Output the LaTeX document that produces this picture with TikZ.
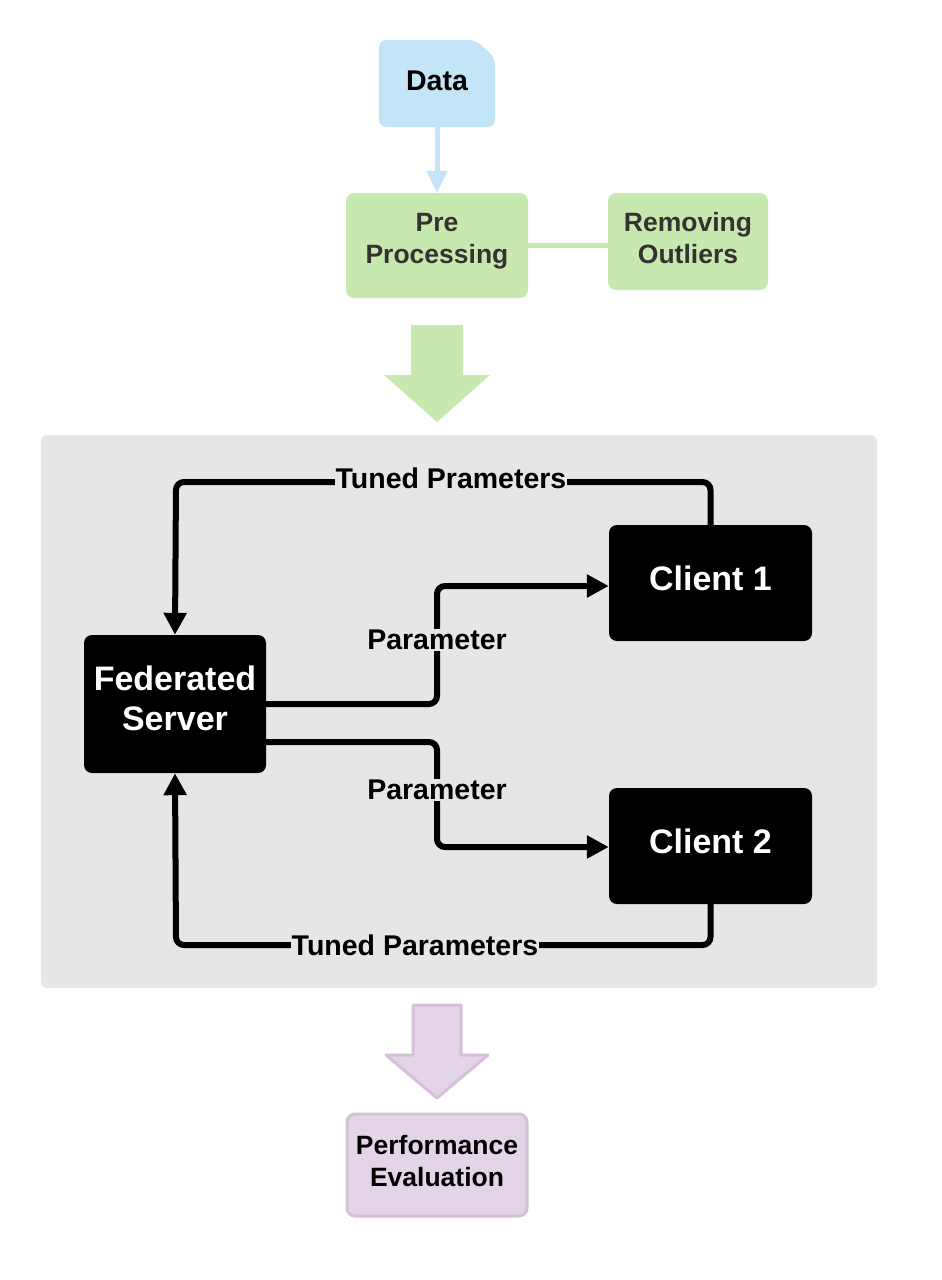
\documentclass[tikz,border=0pt]{standalone}
\usepackage{fontspec}
\setmainfont{Liberation Sans}
\usetikzlibrary{arrows.meta,calc}
\definecolor{datablue}{HTML}{C3E5F7}
\definecolor{prepgreen}{HTML}{C7E9AF}
\definecolor{panelgray}{HTML}{E6E6E6}
\definecolor{evalfill}{HTML}{E4D4E7}
\definecolor{evaldraw}{HTML}{D6C0D9}
\definecolor{darktext}{HTML}{333333}
\tikzset{
  greenbox/.style={fill=prepgreen, rounded corners=8pt, text=darktext, font=\bfseries\fontsize{26.5}{32}\selectfont, align=center, inner sep=0pt, text depth=14pt},
  blackbox/.style={fill=black, rounded corners=8pt, text=white, font=\bfseries\fontsize{34}{40}\selectfont, align=center, inner sep=0pt, minimum width=203pt, minimum height=116pt, text depth=9pt},
  conn/.style={line width=6pt, rounded corners=8pt, draw=black},
  tip/.style={-{Triangle[length=22pt,width=22pt]}},
  lbl/.style={fill=panelgray, inner sep=1pt, font=\bfseries\fontsize{28.5}{30}\selectfont}
}
\begin{document}
\begin{tikzpicture}[x=1pt,y=-1pt]
\useasboundingbox (0,0) rectangle (942,1280);
\fill[white] (0,0) rectangle (942,1280);
% Data
\node[minimum width=116pt, minimum height=87pt, inner sep=0pt] (data) at (437,83.5) {};
\fill[datablue, rounded corners=8pt] (data.south west) -- (data.north west) -- ($(data.north east)+(-20,0)$) -- ($(data.north east)+(0,18)$) -- (data.south east) -- cycle;
\node[font=\bfseries\fontsize{28.5}{30}\selectfont, text depth=5pt, inner sep=0pt] (datatext) at (data.center) {Data};
% Pre processing and outliers
\node[greenbox, minimum width=182pt, minimum height=105pt] (prep) at (437,245.5) {Pre\\Processing};
\node[greenbox, minimum width=160pt, minimum height=97pt, text depth=8pt] (outl) at (688,241.5) {Removing\\Outliers};
\draw[prepgreen, line width=5pt] (prep.east |- 0,245) -- (outl.west |- 0,245);
\draw[datablue, line width=5pt, -{Triangle[length=22pt,width=20pt]}] (data.south) -- (prep.north);
% big green arrow
\fill[prepgreen] (411,325) -- (463,325) -- (463,375) -- (490,375) -- (437,422) -- (384,375) -- (411,375) -- cycle;
% panel
\fill[panelgray, rounded corners=6pt] (41,435) rectangle (877,988);
% nodes
\node[blackbox, minimum width=182pt, minimum height=138pt, text depth=11pt] (fs) at (175,704) {Federated\\Server};
\node[blackbox] (c1) at (710.5,583) {Client 1};
\node[blackbox] (c2) at (710.5,846) {Client 2};
\coordinate (tl) at (176,482);
\coordinate (bl) at (176,945);
% connectors
\draw[conn, tip] (c1.north) |- (tl) -- (fs.north);
\draw[conn, tip] (fs.east) -| (437,586) -- (c1.west |- 0,586);
\draw[conn, tip] ($(fs.east)+(0,38)$) -| (437,847) -- (c2.west |- 0,847);
\draw[conn, tip] (c2.south) |- (bl) -- (fs.south);
% labels
\node[lbl] (l1) at (451,478) {Tuned Prameters};
\node[lbl] (l2) at (437,640) {Parameter};
\node[lbl] (l3) at (437,790) {Parameter};
\node[lbl] (l4) at (415,945) {Tuned Parameters};
% purple arrow
\filldraw[fill=evalfill, draw=evaldraw, line width=3pt, line join=round] (413,1005) -- (461,1005) -- (461,1055) -- (488,1055) -- (437,1098) -- (386,1055) -- (413,1055) -- cycle;
\node[fill=evalfill, draw=evaldraw, line width=3pt, rounded corners=8pt, minimum width=180pt, minimum height=102pt, inner sep=0pt, align=center, text depth=8pt, font=\bfseries\fontsize{26.5}{32}\selectfont] (eval) at (437,1165) {Performance\\Evaluation};
\end{tikzpicture}
\end{document}
